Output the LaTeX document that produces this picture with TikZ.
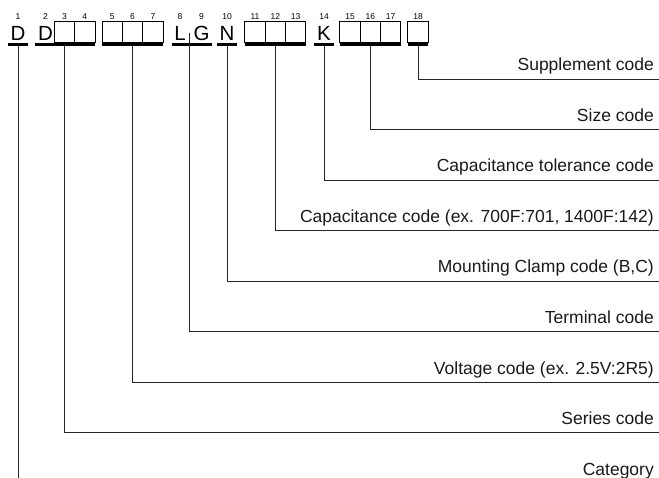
\documentclass[tikz,border=0pt]{standalone}
\usepackage{fontspec}
\setmainfont{Liberation Sans}
\usetikzlibrary{positioning}
\usetikzlibrary{calc}

\begin{document}
\begin{tikzpicture}[
      x=1pt, y=-1pt,
      node distance=0pt,
      chr/.style={font=\fontsize{20.5}{21}\selectfont, inner xsep=2.5pt, inner ysep=0pt, anchor=base},
      cell/.style={draw, line width=0.8pt, minimum width=20.3pt, minimum height=21pt, inner sep=0pt, outer sep=0pt},
      num/.style={font=\fontsize{8.5}{9}\selectfont, inner sep=0pt},
      bar/.style={line width=2.4pt},
      lead/.style={line width=0.8pt, draw=black!85},
      caption/.style={font=\fontsize{17.5}{18}\selectfont, anchor=base east, inner sep=0pt, text=black!90}
      ]

      \useasboundingbox (0,0) rectangle (659,478);

      \coordinate (numrow) at (0,17);
      \coordinate (barrow) at (0,44.5);
      \coordinate (leadrow) at (0,45.6);

      % code characters and blank cells
      \node[chr] (d1) at (18,40.5) {D};
      \node[chr] (d2) at (45.5,40.5) {D};
      \node[cell] (c3) at (64.5,31.5) {};
      \node[cell, right=of c3] (c4) {};
      \node[cell] (c5) at (112.3,31.5) {};
      \node[cell, right=of c5] (c6) {};
      \node[cell, right=of c6] (c7) {};
      \node[chr] (l8) at (180,40.5) {L};
      \node[chr] (g9) at (201.5,40.5) {G};
      \node[chr] (n10) at (227,40.5) {N};
      \node[cell] (c11) at (255,31.5) {};
      \node[cell, right=of c11] (c12) {};
      \node[cell, right=of c12] (c13) {};
      \node[chr] (k14) at (324,40.5) {K};
      \node[cell] (c15) at (350,31.5) {};
      \node[cell, right=of c15] (c16) {};
      \node[cell, right=of c16] (c17) {};
      \node[cell] (c18) at (418,31.5) {};

      % position numbers
      \node[num] at (d1 |- numrow) {1};
      \node[num] at (d2 |- numrow) {2};
      \node[num] at (c3 |- numrow) {3};
      \node[num] at (c4 |- numrow) {4};
      \node[num] at (c5 |- numrow) {5};
      \node[num] at (c6 |- numrow) {6};
      \node[num] at (c7 |- numrow) {7};
      \node[num] at (l8 |- numrow) {8};
      \node[num] at (g9 |- numrow) {9};
      \node[num] at (n10 |- numrow) {10};
      \node[num] at (c11 |- numrow) {11};
      \node[num] at (c12 |- numrow) {12};
      \node[num] at (c13 |- numrow) {13};
      \node[num] at (k14 |- numrow) {14};
      \node[num] at (c15 |- numrow) {15};
      \node[num] at (c16 |- numrow) {16};
      \node[num] at (c17 |- numrow) {17};
      \node[num] at (c18 |- numrow) {18};

      % underlines
      \draw[bar] (d1.west |- barrow) -- (d1.east |- barrow);
      \draw[bar] (d2.west |- barrow) -- (c4.east |- barrow);
      \draw[bar] (c5.west |- barrow) -- (c7.east |- barrow);
      \draw[bar] (l8.west |- barrow) -- (g9.east |- barrow);
      \draw[bar] (n10.west |- barrow) -- (n10.east |- barrow);
      \draw[bar] (c11.west |- barrow) -- (c13.east |- barrow);
      \draw[bar] (k14.west |- barrow) -- (k14.east |- barrow);
      \draw[bar] (c15.west |- barrow) -- (c17.east |- barrow);
      \draw[bar] (c18.west |- barrow) -- (c18.east |- barrow);

      % captions
      \node[caption] (t18) at (654,71) {Supplement code};
      \node[caption] (t15) at (654,121.5) {Size code};
      \node[caption] (t14) at (654,172) {Capacitance tolerance code};
      \node[caption] (t11) at (654,222.5) {Capacitance code (ex. 700F:701, 1400F:142)};
      \node[caption] (t10) at (654,273) {Mounting Clamp code (B,C)};
      \node[caption] (t8) at (654,323.5) {Terminal code};
      \node[caption] (t5) at (654,374) {Voltage code (ex. 2.5V:2R5)};
      \node[caption] (t2) at (654,424.5) {Series code};
      \node[caption] (t1) at (654,475) {Category};

      % line ends at the right edge
      \coordinate (e18) at (659,79);
      \coordinate (e15) at (659,129.5);
      \coordinate (e14) at (659,180);
      \coordinate (e11) at (659,230.5);
      \coordinate (e10) at (659,281);
      \coordinate (e8) at (659,331.5);
      \coordinate (e5) at (659,382);
      \coordinate (e2) at (659,432.5);
      \coordinate (e1) at (18,478);

      \draw[lead] (c18 |- leadrow) |- (e18);
      \draw[lead] (c16 |- leadrow) |- (e15);
      \draw[lead] (k14 |- leadrow) |- (e14);
      \draw[lead] (c12 |- leadrow) |- (e11);
      \draw[lead] (n10 |- leadrow) |- (e10);
      \draw[lead] ($(l8.east)!0.5!(g9.west)$ |- leadrow) |- (e8);
      \draw[lead] (c6 |- leadrow) |- (e5);
      \draw[lead] (c3 |- leadrow) |- (e2);
      \draw[lead] (d1 |- leadrow) -- (e1);
    \end{tikzpicture}
\end{document}
